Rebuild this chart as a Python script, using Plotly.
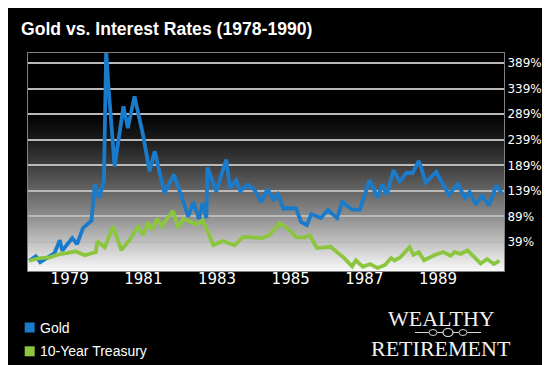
import numpy as np
import plotly.graph_objects as go

# ---------------- data ----------------
gold_year = [1977.90, 1978.08, 1978.20, 1978.46, 1978.59, 1978.73, 1978.80, 1979.07, 1979.20, 1979.36,
             1979.59, 1979.68, 1979.80, 1979.93, 1979.99, 1980.05, 1980.22, 1980.46, 1980.58, 1980.76,
             1980.99, 1981.17, 1981.31, 1981.57, 1981.83, 1982.22, 1982.36, 1982.51, 1982.61, 1982.71,
             1982.74, 1982.98, 1983.25, 1983.35, 1983.52, 1983.63, 1983.84, 1984.02, 1984.20, 1984.37,
             1984.53, 1984.65, 1984.81, 1984.88, 1985.15, 1985.28, 1985.44, 1985.56, 1985.82, 1986.01,
             1986.26, 1986.40, 1986.67, 1986.88, 1987.14, 1987.36, 1987.49, 1987.61, 1987.79, 1987.96,
             1988.14, 1988.31, 1988.48, 1988.67, 1988.95, 1989.29, 1989.54, 1989.73, 1989.86, 1990.03,
             1990.19, 1990.39, 1990.58, 1990.73]
gold_value = [2.5, 11.1, -0.6, 11.1, 17.5, 42.4, 22.1, 46.9, 35.1, 66.4,
              80.7, 151.1, 125.1, 157.7, 415, 345, 187, 304.3, 261.9, 323.9,
              248.8, 177.3, 216.4, 134.8, 171, 89.3, 117.3, 84, 115.3, 86,
              184.7, 138.2, 200.3, 144.6, 159.3, 138.8, 151.1, 140.7, 117.3, 142.3,
              122.7, 132.3, 103.6, 105.5, 104.9, 78.2, 72.3, 93.8, 86, 101.6,
              86, 117.3, 102.2, 102.2, 159.9, 126.4, 151.1, 131.5, 179.4, 157.7,
              174, 174, 197.8, 155, 175.9, 131.5, 152.4, 125.1, 136.8, 112,
              129.4, 110.8, 149.9, 134.8]

treasury_year = [1977.90, 1978.19, 1978.46, 1978.73, 1978.91, 1979.16, 1979.41, 1979.59, 1979.71, 1979.75,
                 1979.95, 1980.18, 1980.40, 1980.63, 1980.85, 1980.99, 1981.12, 1981.24, 1981.37, 1981.50,
                 1981.80, 1981.95, 1982.08, 1982.24, 1982.44, 1982.61, 1982.76, 1982.90, 1983.16, 1983.47,
                 1983.71, 1984.00, 1984.25, 1984.43, 1984.57, 1984.70, 1984.83, 1985.00, 1985.15, 1985.38,
                 1985.52, 1985.71, 1986.08, 1986.44, 1986.67, 1986.77, 1986.96, 1987.15, 1987.36, 1987.56,
                 1987.73, 1987.82, 1987.97, 1988.23, 1988.33, 1988.48, 1988.62, 1988.91, 1989.14, 1989.34,
                 1989.45, 1989.61, 1989.80, 1990.00, 1990.16, 1990.33, 1990.52, 1990.67]
treasury_value = [2.5, 7.8, 9.1, 15.6, 17.5, 20.9, 13.1, 17.5, 19.5, 40.4,
                  28.7, 69.7, 23.4, 43.6, 69, 53.3, 77.2, 63.1, 84.4, 69.7,
                  100.2, 66.4, 84, 79.5, 73.7, 81.5, 56.6, 33.2, 41, 32.6,
                  49.2, 48.2, 46.9, 53.3, 66.4, 76.2, 69.4, 60.6, 48.2, 48.2,
                  52.2, 27.3, 29.7, 8.6, -8.5, 3.5, -9.4, -4, -11.8, -5.9,
                  7.8, 2.9, 8.8, 29.3, 14.2, 19.1, 3.3, 13.6, 19.5, 12.1,
                  19.5, 15.6, 22.8, 9.7, -3, 5.8, -4, 2.5]

x_tick_years = [1979, 1981, 1983, 1985, 1987, 1989]
y_tick_values = [39, 89, 139, 189, 239, 289, 339, 389]
y_tick_labels = [f"{v}%" for v in y_tick_values]

series_names = ["Gold", "10-Year Treasury"]
series_colors = ["#1b7bcb", "#8cc63f"]

# ---------------- layout geometry ----------------
W, H = 550, 365
L, R, T, B = 20, 496, 45, 263          # plot area in pixels
PW, PH = R - L, B - T


def px_x(p):
    return (p - L) / PW


def px_y(p):
    return (B - p) / PH


fig = go.Figure()

fig.add_trace(go.Scatter(x=gold_year, y=gold_value, mode="lines", name=series_names[0],
                         line=dict(color=series_colors[0], width=3.8), showlegend=False))
fig.add_trace(go.Scatter(x=treasury_year, y=treasury_value, mode="lines", name=series_names[1],
                         line=dict(color=series_colors[1], width=3.8), showlegend=False))

shapes = []
# vertical black -> white gradient behind the plot
stop_px = [45, 105, 131, 157, 183, 209, 234, 263]
stop_lv = [0, 0, 25, 62, 100, 142, 192, 248]
nb = 109
for i in range(nb):
    y0 = T + i * PH / nb
    y1 = T + (i + 1) * PH / nb
    lv = int(round(np.interp((y0 + y1) / 2, stop_px, stop_lv)))
    shapes.append(dict(type="rect", xref="paper", yref="paper", layer="below",
                       x0=0, x1=1, y0=px_y(y1) - 0.002, y1=px_y(y0) + 0.002,
                       line=dict(width=0), fillcolor=f"rgb({lv},{lv},{lv})"))

# legend squares
leg_y = [319.5, 343.3]
for c, yy in zip(series_colors, leg_y):
    shapes.append(dict(type="rect", xref="paper", yref="paper",
                       x0=px_x(16.7), x1=px_x(26.7), y0=px_y(yy + 5), y1=px_y(yy - 5),
                       line=dict(width=0), fillcolor=c))

# logo ornament
shapes.append(dict(type="line", xref="paper", yref="paper",
                   x0=px_x(407), x1=px_x(473), y0=px_y(324.5), y1=px_y(324.5),
                   line=dict(color="#d8d8d8", width=1.2)))
shapes.append(dict(type="circle", xref="paper", yref="paper",
                   x0=px_x(435), x1=px_x(445), y0=px_y(328.5), y1=px_y(320.5),
                   line=dict(color="#e8e8e8", width=1.2), fillcolor="#000000"))
for cx in (425, 455):
    shapes.append(dict(type="circle", xref="paper", yref="paper",
                       x0=px_x(cx - 4), x1=px_x(cx + 4), y0=px_y(327.5), y1=px_y(321.5),
                       line=dict(color="#cfcfcf", width=1), fillcolor="#000000"))

annotations = []
for name, yy in zip(series_names, leg_y):
    annotations.append(dict(text=name, xref="paper", yref="paper", x=px_x(30), y=px_y(yy),
                            xanchor="left", yanchor="middle", showarrow=False,
                            font=dict(family="Liberation Sans, Arial, sans-serif",
                                      size=14, color="#ffffff")))

logo_font = dict(family="Liberation Serif, Times New Roman, serif", size=22, color="#f2f2f2")
annotations.append(dict(text="WEALTHY", xref="paper", yref="paper", x=px_x(433), y=px_y(310),
                        xanchor="center", yanchor="middle", showarrow=False, font=logo_font))
annotations.append(dict(text="RETIREMENT", xref="paper", yref="paper", x=px_x(433), y=px_y(340),
                        xanchor="center", yanchor="middle", showarrow=False, font=logo_font))

fig.update_layout(
    width=W, height=H,
    margin=dict(l=L, r=W - R, t=T, b=H - B, pad=0),
    paper_bgcolor="#000000",
    plot_bgcolor="#000000",
    title=dict(text="<b>Gold vs. Interest Rates (1978-1990)</b>",
               x=13 / W, xanchor="left", xref="container",
               y=1 - 21 / H, yanchor="middle", yref="container",
               font=dict(family="Liberation Sans, Arial, sans-serif",
                         size=17.6, color="#ffffff")),
    shapes=shapes,
    annotations=annotations,
    showlegend=False,
    xaxis=dict(range=[1977.868, 1990.792], tickvals=x_tick_years,
               ticktext=[str(v) for v in x_tick_years],
               showgrid=False, zeroline=False, ticks="", ticklabelstandoff=-6,
               showline=True, mirror=True, linecolor="#808080", linewidth=1,
               tickfont=dict(family="DejaVu Sans, Verdana, sans-serif", size=15, color="#ffffff")),
    yaxis=dict(range=[-17.6, 408.6], tickvals=y_tick_values, ticktext=y_tick_labels,
               side="right", showgrid=True, gridcolor="#b9b9b9", gridwidth=1.5,
               zeroline=False, ticks="", ticklabelstandoff=0,
               showline=True, mirror=True, linecolor="#808080", linewidth=1,
               tickfont=dict(family="DejaVu Sans, Verdana, sans-serif", size=12, color="#ffffff")),
)

fig.write_html("out.html")
